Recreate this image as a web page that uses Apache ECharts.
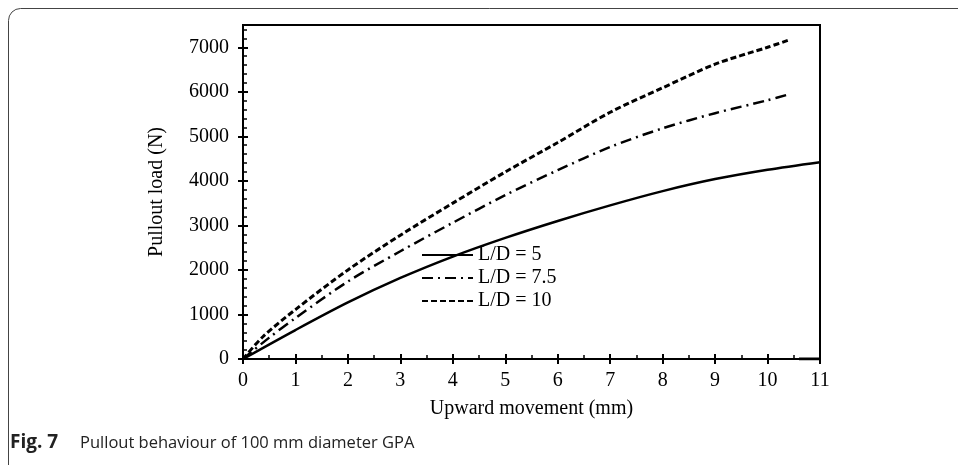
<!DOCTYPE html>
<html>
<head>
<meta charset="utf-8">
<script src="https://cdn.jsdelivr.net/npm/echarts@6/dist/echarts.min.js"></script>
<style>
  html, body { margin: 0; padding: 0; background: #fff; }
  #main { width: 958px; height: 465px; }
</style>
</head>
<body>
<div id="main"></div>
<script>
// values (x = upward movement mm, y = load N)
var ld5 = [[0,0],[1,650],[2,1270],[3,1820],[4,2300],[5,2720],[6,3100],[7,3450],[8,3770],[9,4040],[10,4250],[11,4420]];
var ld75 = [[0,0],[0.5,480],[1,920],[2,1740],[3,2420],[4,3060],[5,3680],[6,4240],[7,4760],[8,5180],[9,5520],[10,5810],[10.4,5940]];
var ld10 = [[0,0],[0.38,500],[1,1110],[2,2000],[3,2780],[4,3500],[5,4200],[6,4860],[7,5540],[8,6090],[9,6620],[10,7000],[10.4,7160]];
var baseSeg = [[10.6,0],[11,0]];
var names = ['L/D = 5', 'L/D = 7.5', 'L/D = 10'];

var serif = 'Liberation Serif';
var chart = echarts.init(document.getElementById('main'));

var option = {
  animation: false,
  grid: { left: 243, right: 138, top: 25, bottom: 106, show: true, borderColor: '#000', borderWidth: 2, backgroundColor: 'transparent' },
  legend: {
    data: names,
    orient: 'vertical',
    left: 416, top: 240,
    itemWidth: 51, itemHeight: 14, itemGap: 3,
    itemStyle: { opacity: 0 },
    textStyle: { fontFamily: serif, fontSize: 20, color: '#000' }
  },
  xAxis: [{
    type: 'value', min: 0, max: 11, interval: 1,
    name: 'Upward movement (mm)', nameLocation: 'middle', nameGap: 40,
    nameTextStyle: { fontFamily: serif, fontSize: 20, color: '#000' },
    axisLine: { lineStyle: { color: '#000', width: 2 } },
    axisTick: { show: true, length: 5, lineStyle: { color: '#000', width: 2 } },
    axisLabel: { fontFamily: serif, fontSize: 20, color: '#000', margin: 12 },
    splitLine: { show: false }
  }, {
    type: 'value', min: 0, max: 11, interval: 1, position: 'bottom',
    axisLine: { show: false },
    axisTick: { show: true, inside: true, length: 5, lineStyle: { color: '#000', width: 2 } },
    minorTick: { show: true, splitNumber: 2, length: 4, lineStyle: { color: '#000', width: 1.5 } },
    axisLabel: { show: false }, splitLine: { show: false }
  }],
  yAxis: [{
    type: 'value', min: 0, max: 7500, interval: 1000,
    name: 'Pullout load (N)', nameLocation: 'middle', nameGap: 76, nameRotate: 90,
    nameTextStyle: { fontFamily: serif, fontSize: 20, color: '#000' },
    axisLine: { show: true, lineStyle: { color: '#000', width: 2 } },
    axisTick: { show: true, length: 5, lineStyle: { color: '#000', width: 2 } },
    axisLabel: { fontFamily: serif, fontSize: 20, color: '#000', margin: 14, showMaxLabel: false,
      formatter: function (v) { return String(v); } },
    splitLine: { show: false }
  }, {
    type: 'value', min: 0, max: 7500, interval: 1000, position: 'left',
    axisLine: { show: false },
    axisTick: { show: true, inside: true, length: 5, lineStyle: { color: '#000', width: 2 } },
    minorTick: { show: true, splitNumber: 5, length: 4, lineStyle: { color: '#000', width: 1.5 } },
    axisLabel: { show: false }, splitLine: { show: false }
  }],
  series: [{
    name: names[0], type: 'line', data: ld5, symbol: 'none', smooth: 0.3,
    lineStyle: { color: '#000', width: 2.5, type: 'solid' }, itemStyle: { color: '#000', opacity: 0 }
  }, {
    name: names[1], type: 'line', data: ld75, symbol: 'none', smooth: 0.3,
    lineStyle: { color: '#000', width: 2.5, type: [11, 5, 2, 5] }, itemStyle: { color: '#000', opacity: 0 }
  }, {
    name: names[2], type: 'line', data: ld10, symbol: 'none', smooth: 0.3,
    lineStyle: { color: '#000', width: 3, type: [6, 3] }, itemStyle: { color: '#000', opacity: 0 }
  }, {
    type: 'line', data: baseSeg, symbol: 'none',
    lineStyle: { color: '#000', width: 3 }
  }],
  graphic: [{
    type: 'rect', shape: { x: 8.5, y: 8.5, width: 1000, height: 500, r: 12 },
    style: { fill: 'none', stroke: '#444', lineWidth: 1 }
  }, {
    type: 'text', left: 10, top: 433,
    style: { text: 'Fig. 7', font: 'bold 19px "Open Sans"', fill: '#222' }
  }, {
    type: 'text', left: 80, top: 435,
    style: { text: 'Pullout behaviour of 100 mm diameter GPA', font: '16.5px "Open Sans"', fill: '#222' }
  }]
};

chart.setOption(option);
</script>
</body>
</html>
